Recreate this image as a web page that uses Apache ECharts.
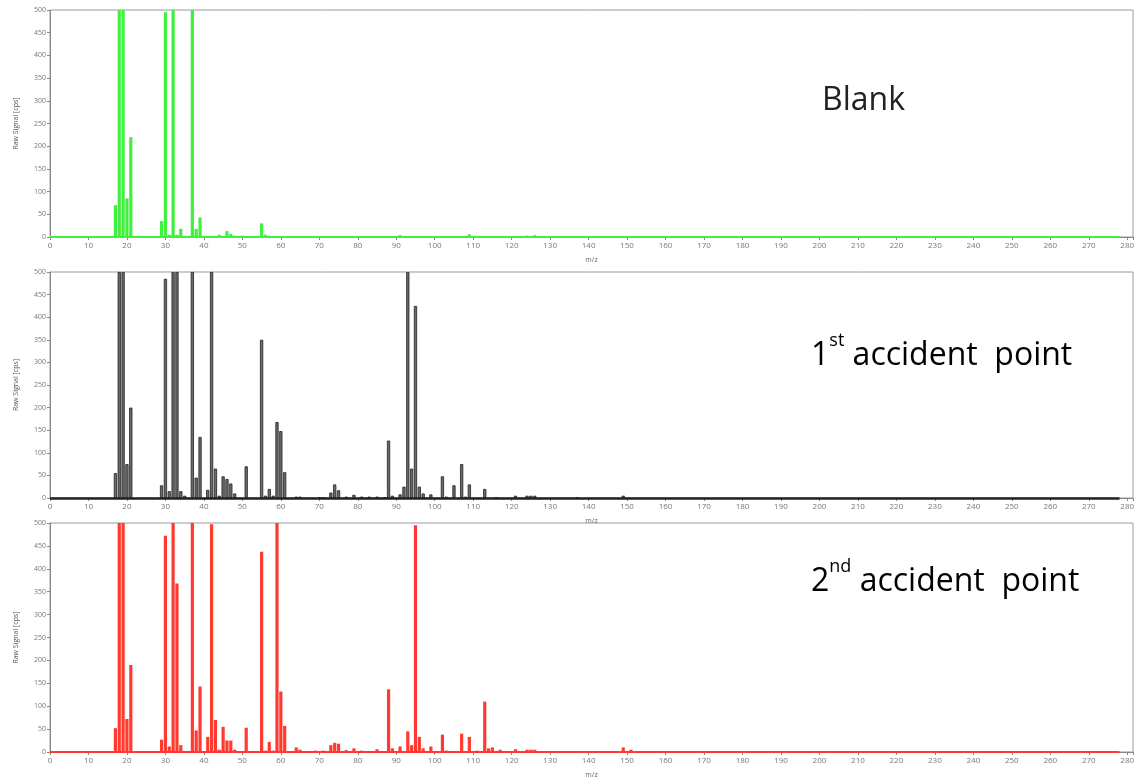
<!DOCTYPE html>
<html><head><meta charset="utf-8">
<script src="https://cdn.jsdelivr.net/npm/echarts@6/dist/echarts.min.js"></script>
<style>html,body{margin:0;padding:0;background:#fff}#c{width:1139px;height:781px}</style>
</head><body><div id="c"></div>
<script>
var xTicks = [0,10,20,30,40,50,60,70,80,90,100,110,120,130,140,150,160,170,180,190,200,210,220,230,240,250,260,270,280];
var yTicks = [0,50,100,150,200,250,300,350,400,450,500];

var blankMz  = [17,18,19,20,21,29,30,31,32,33,34,37,38,39,44,46,47,48,50,55,56,58,91,107,109,120,124,126];
var blankVal = [70,500,500,85,220,35,495,5,500,5,18,500,18,43,5,13,7,3,3,30,5,2,4,2,6,2,3,4];

var acc1Mz  = [17,18,19,20,21,29,30,31,32,33,34,35,37,38,39,41,42,43,44,45,46,47,48,51,55,56,57,58,59,60,61,64,65,70,71,73,74,75,77,79,81,83,85,87,88,89,91,92,93,94,95,96,97,99,102,103,105,107,108,109,113,116,121,124,125,126,137,149];
var acc1Val = [55,500,500,75,200,28,485,15,500,500,15,5,500,45,135,18,500,65,5,48,42,32,10,70,350,5,20,5,168,148,57,3,3,2,2,12,30,17,3,7,3,3,3,2,127,5,8,25,500,65,425,25,10,8,48,3,28,75,3,30,20,2,5,5,5,5,2,5];

var acc2Mz  = [17,18,19,20,21,29,30,31,32,33,34,37,38,39,41,42,43,44,45,46,47,48,51,55,56,57,58,59,60,61,64,65,69,71,73,74,75,77,79,81,85,88,89,91,93,94,95,96,97,99,102,103,107,109,111,113,114,115,117,121,124,125,126,130,149,151];
var acc2Val = [52,500,500,72,190,27,472,12,500,368,15,500,47,143,33,497,70,5,55,25,25,5,53,437,3,22,3,500,132,57,10,5,3,3,15,20,18,4,8,3,6,137,8,12,45,15,495,33,8,12,38,3,40,33,3,110,8,10,5,6,5,5,5,2,10,5];

var panelLabels = ['Blank', '1st accident point', '2nd accident point'];
var baselineEnd = 278;

var colors = ['#3ff03f', '#333333', '#ff3b30'];
var grids = [
  {left:50, top:10, width:1083, height:227},
  {left:50, top:272, width:1083, height:226},
  {left:50, top:523, width:1083, height:229}
];
function pairs(mz, v){ return mz.map(function(m,i){return [m, v[i]];}); }
var datasets = [pairs(blankMz, blankVal), pairs(acc1Mz, acc1Val), pairs(acc2Mz, acc2Val)];

var richStyle = {
  a:{fontSize:32, fontFamily:'Open Sans', lineHeight:40, verticalAlign:'bottom', color:'#222'},
  s:{fontSize:18, fontFamily:'Open Sans', lineHeight:40, verticalAlign:'top', color:'#222'}
};

var option = {
  animation:false,
  grid: grids.map(function(g){ return Object.assign({show:true, borderColor:'#9a9a9a', borderWidth:1, backgroundColor:'#fff'}, g); }),
  xAxis: grids.map(function(g,i){ return {
    type:'value', gridIndex:i, min:0, max:281.5, interval:10,
    name:'m/z', nameLocation:'middle', nameGap:19,
    nameTextStyle:{fontSize:7, color:'#666', fontFamily:'Open Sans'},
    axisLine:{show:true, onZero:false, lineStyle:{color:'#888', width:1}},
    axisTick:{show:true, length:3, lineStyle:{color:'#888'}},
    axisLabel:{fontSize:8, color:'#777', margin:5, fontFamily:'Open Sans',
      formatter:function(v){ return xTicks.indexOf(v) >= 0 ? String(v) : ''; }},
    splitLine:{show:false}
  }; }),
  yAxis: grids.map(function(g,i){ return {
    type:'value', gridIndex:i, min:0, max:500, interval:50,
    name:'Raw Signal [cps]', nameLocation:'middle', nameGap:31, nameRotate:90,
    nameTextStyle:{fontSize:7, color:'#555', fontFamily:'Open Sans'},
    axisLine:{show:true, lineStyle:{color:'#888', width:1}},
    axisTick:{show:true, length:3, lineStyle:{color:'#888'}},
    axisLabel:{fontSize:7, color:'#777', margin:4, fontFamily:'Open Sans',
      formatter:function(v){ return yTicks.indexOf(v) >= 0 ? String(v) : ''; }},
    splitLine:{show:false}
  }; }),
  series: datasets.map(function(d,i){ return {
    type:'bar', xAxisIndex:i, yAxisIndex:i, data:d, barWidth:3.2, clip:true,
    itemStyle:{color: i===1 ? '#6a6a6a' : colors[i], borderColor: i===1 ? '#222' : colors[i], borderWidth: i===1 ? 0.8 : 0},
    markLine:{silent:true, symbol:['none','none'], label:{show:false},
      lineStyle:{color: i===1 ? '#222' : colors[i], width: i===1 ? 2.5 : 2, type:'solid'},
      data:[[{coord:[0,0]},{coord:[baselineEnd,0]}]]}
  }; }),
  graphic: [
    {type:'text', left:822, top:85, style:{text:panelLabels[0], font:'32px "Open Sans"', fill:'#222'}},
    {type:'text', left:811, top:332, style:{text:'{a|1}{s|st}{a| accident  point}', rich:richStyle}},
    {type:'text', left:811, top:558, style:{text:'{a|2}{s|nd}{a| accident  point}', rich:richStyle}}
  ]
};
echarts.init(document.getElementById('c'), null, {renderer:'canvas'}).setOption(option);
</script></body></html>
